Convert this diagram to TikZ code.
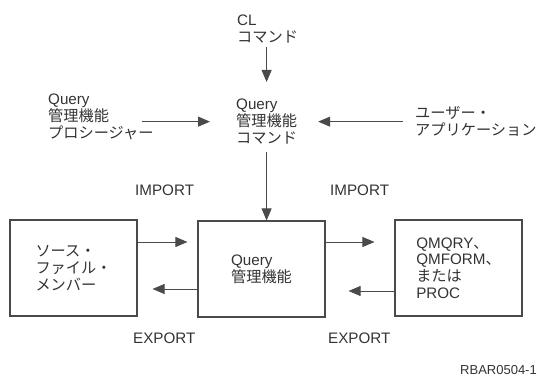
\documentclass[tikz,border=0pt]{standalone}
\usepackage{fontspec}
\setmainfont{Liberation Sans}
\newfontfamily\jp{Noto Sans CJK JP}
\usepackage{tikz}
\usetikzlibrary{arrows.meta}
\usepackage{xcolor}
\definecolor{inkgray}{HTML}{333333}
\definecolor{linegray}{HTML}{4A4A4A}

\begin{document}
\begin{tikzpicture}[x=1pt, y=-1pt,
		txt/.style={inner sep=0, align=left, text=inkgray, font=\fontsize{15.2}{16.8}\selectfont},
		box/.style={draw=linegray, line width=1.1pt, minimum width=127pt, minimum height=96pt, inner sep=0, align=left, text=inkgray, font=\fontsize{15.2}{16.8}\selectfont},
		arr/.style={linegray, line width=0.9pt, -{Triangle[length=12pt,width=10pt]}}]
	    		\useasboundingbox (0,0) rectangle (541,379);
	    		\node[txt, anchor=north west] (cl) at (237,15) {CL\\{\jp コマンド}};
	    		\node[txt, anchor=north west] (qmcmd) at (236,99) {Query\\{\jp 管理機能}\\{\jp コマンド}};
	    		\node[txt, anchor=north west] (proc) at (48,94) {Query\\{\jp 管理機能}\\{\jp プロシージャー}};
	    		\node[txt, anchor=north west] (app) at (415,106) {{\jp ユーザー・}\\{\jp アプリケーション}};
	    		\node[box] (src) at (73.5,268) {{\jp ソース・}\\{\jp ファイル・}\\{\jp メンバー}};
	    		\node[box] (mgr) at (261.5,269) {Query\\{\jp 管理機能}};
	    		\node[box] (obj) at (458.5,268) {QMQRY{\jp 、}\\QMFORM{\jp 、}\\{\jp または}\\PROC};
	    		\node[txt, anchor=north west] (impl) at (135,185) {IMPORT};
	    		\node[txt, anchor=north west] (impr) at (330,185) {IMPORT};
	    		\node[txt, anchor=north west] (expl) at (133,333) {EXPORT};
	    		\node[txt, anchor=north west] (expr) at (328,333) {EXPORT};
	    		\node[txt, anchor=north east, font=\fontsize{13}{15}\selectfont] (figid) at (537,365) {RBAR0504-1};
	    		\draw[arr, shorten <=4pt, shorten >=17pt] (qmcmd.north |- cl.south) -- (qmcmd.north);
	    		\draw[arr, shorten <=-12pt, shorten >=26pt] (proc.east |- qmcmd.west) -- (qmcmd.west);
	    		\draw[arr, shorten <=12pt, shorten >=21pt] (app.west |- qmcmd.east) -- (qmcmd.east);
	    		\draw[arr, shorten <=8pt] (qmcmd.south) -- (qmcmd.south |- mgr.north);
	    		\draw[arr, shorten >=10pt] ([yshift=26pt]src.east) -- ([yshift=26pt]src.east -| mgr.west);
	    		\draw[arr, shorten >=15pt] ([yshift=-20pt]mgr.west) -- ([yshift=-20pt]mgr.west -| src.east);
	    		\draw[arr, shorten >=20pt] ([yshift=27pt]mgr.east) -- ([yshift=27pt]mgr.east -| obj.west);
	    		\draw[arr, shorten >=23pt] ([yshift=-23pt]obj.west) -- ([yshift=-23pt]obj.west -| mgr.east);
			\end{tikzpicture}
\end{document}
